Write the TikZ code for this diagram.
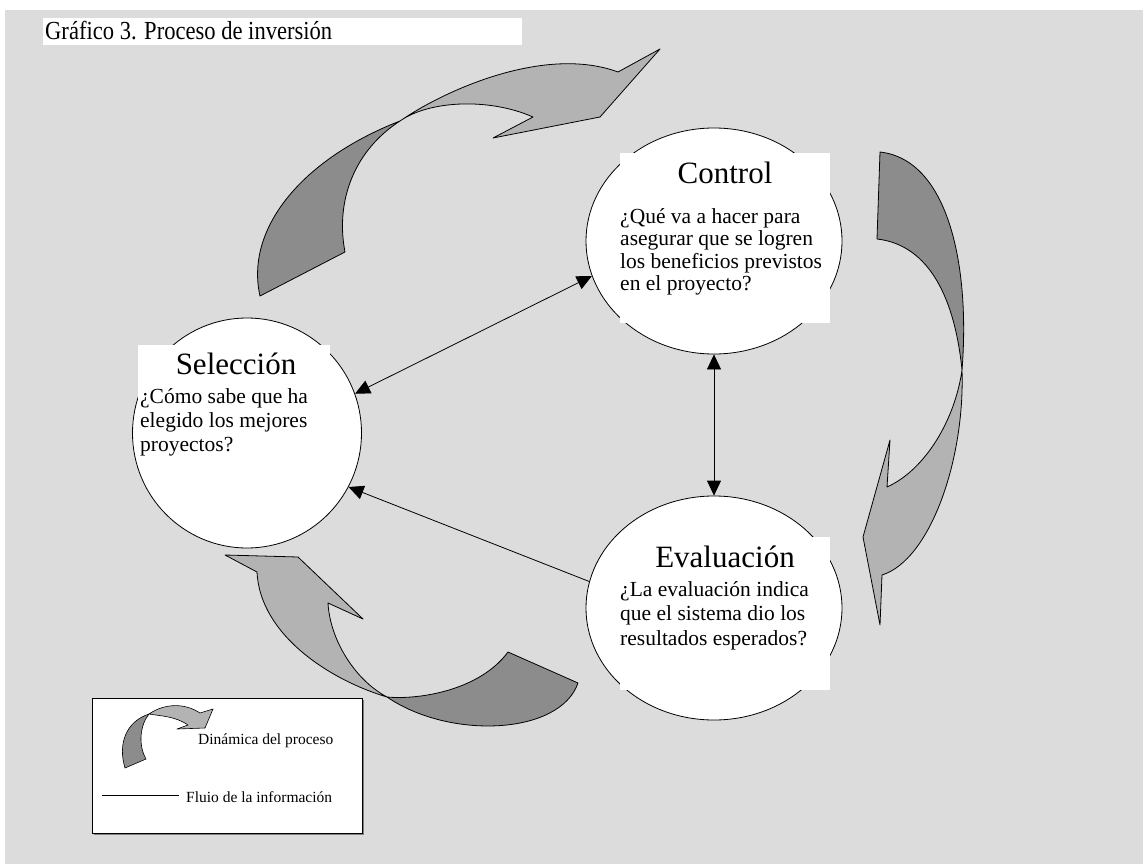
\documentclass[tikz,border=0pt]{standalone}
\usepackage{fontspec}
\setmainfont{Liberation Serif}
\usetikzlibrary{shapes.geometric,arrows.meta}
\definecolor{bggray}{RGB}{220,220,220}
\definecolor{darkband}{RGB}{140,140,140}
\definecolor{lightband}{RGB}{179,179,179}
\tikzset{
	stage/.style={ellipse, draw, fill=white, inner sep=0pt, line width=0.8pt},
	heading/.style={font=\fontsize{31}{33}\selectfont, inner sep=0pt},
	question/.style={font=\fontsize{21.5}{24}\selectfont, align=left, anchor=north west, inner sep=0pt},
	info/.style={line width=0.8pt},
	backband/.style={fill=darkband, draw, line width=0.8pt, line join=round},
	frontband/.style={fill=lightband, draw, line width=0.8pt, line join=round},
	keytext/.style={font=\fontsize{15.5}{17}\selectfont, anchor=west, inner sep=0pt}
}
\begin{document}
\begin{tikzpicture}[x=1pt, y=-1pt, >={Triangle[length=15pt,width=14pt]}]
	\useasboundingbox (0,0) rectangle (1143,864);
	\fill[white] (0,0) rectangle (1143,864);
	\fill[bggray] (5,10) rectangle (1143,864);
	\fill[white] (43,18) rectangle (522,45);
	\node[anchor=west, inner sep=0pt, font=\fontsize{26}{28}\selectfont] (title) at (45,31) {\scalebox{0.868}[1]{Gráfico 3. Proceso de inversión}};

	\draw[backband] (260,296) .. controls (245,230) and (300,160) .. (400,121) .. controls (355,150) and (335,200) .. (345,252) -- cycle;
	\draw[frontband] (400,121) .. controls (445,90) and (545,45) .. (618,72) -- (660,49) -- (600,117) -- (493,138) -- (533,117) .. controls (490,98) and (430,100) .. (400,121) -- cycle;

	\draw[backband] (880,152) .. controls (950,160) and (970,270) .. (962,370) .. controls (955,300) and (930,245) .. (877,239) -- cycle;
	\draw[frontband] (962,370) .. controls (965,460) and (930,560) .. (882,575) -- (880,625) -- (863,537) -- (890,440) -- (887,487) .. controls (925,470) and (955,420) .. (962,370) -- cycle;

	\draw[backband] (578,683) .. controls (560,735) and (450,740) .. (387,697) .. controls (420,700) and (480,690) .. (508,652) -- cycle;
	\draw[frontband] (387,697) .. controls (330,680) and (260,635) .. (257,572) -- (225,555) -- (298,557) -- (363,619) -- (328,603) .. controls (330,640) and (355,680) .. (387,697) -- cycle;

	\node[stage, minimum width=229pt, minimum height=230pt] (sel) at (247,433) {};
	\node[stage, minimum width=256pt, minimum height=226pt] (ctl) at (714,241) {};
	\node[stage, minimum width=256pt, minimum height=224pt] (eva) at (714,608) {};

	\fill[white] (138,345) rectangle (330,460);
	\fill[white] (620,153) rectangle (830,323);
	\fill[white] (620,537) rectangle (830,690);

	\node[heading] (seltitle) at (236,364) {Selección};
	\node[question] (seltext) at (140,388) {¿Cómo sabe que ha\\elegido los mejores\\proyectos?};
	\node[heading] (ctltitle) at (725,173) {Control};
	\node[question, font=\fontsize{21.5}{22.5}\selectfont] (ctltext) at (620,208) {¿Qué va a hacer para\\asegurar que se logren\\los beneficios previstos\\en el proyecto?};
	\node[heading] (evatitle) at (725,557) {Evaluación};
	\node[question, font=\fontsize{21.5}{24.5}\selectfont] (evatext) at (620,581) {¿La evaluación indica\\que el sistema dio los\\resultados esperados?};

	\draw[info, <->] (sel.20) -- (ctl.196);
	\draw[info, <->] (ctl.south) -- (eva.north);
	\draw[info, ->] (eva.168) -- (sel.-28);

	\fill[gray] (94,700) rectangle (364,835);
	\node[draw, fill=white, line width=0.8pt, minimum width=270pt, minimum height=135pt, inner sep=0pt] (legend) at (227,765.5) {};
	\draw[backband, line width=0.6pt] (125,768) .. controls (118,745) and (125,722) .. (149,714) .. controls (140,725) and (138,745) .. (146,759) -- cycle;
	\draw[frontband, line width=0.6pt] (149,714) .. controls (165,703) and (185,703) .. (200,713) -- (213,709) -- (205,728) -- (177,729) -- (188,725) .. controls (175,716) and (160,716) .. (149,714) -- cycle;
	\node[keytext] (dynlabel) at (198,741) {Dinámica del proceso};
	\coordinate (keyA) at (102,795);
	\coordinate (keyB) at (179,795);
	\draw[line width=0.8pt] (keyA) -- (keyB);
	\node[keytext] (flowlabel) at (186,797) {Fluio de la información};
\end{tikzpicture}
\end{document}
